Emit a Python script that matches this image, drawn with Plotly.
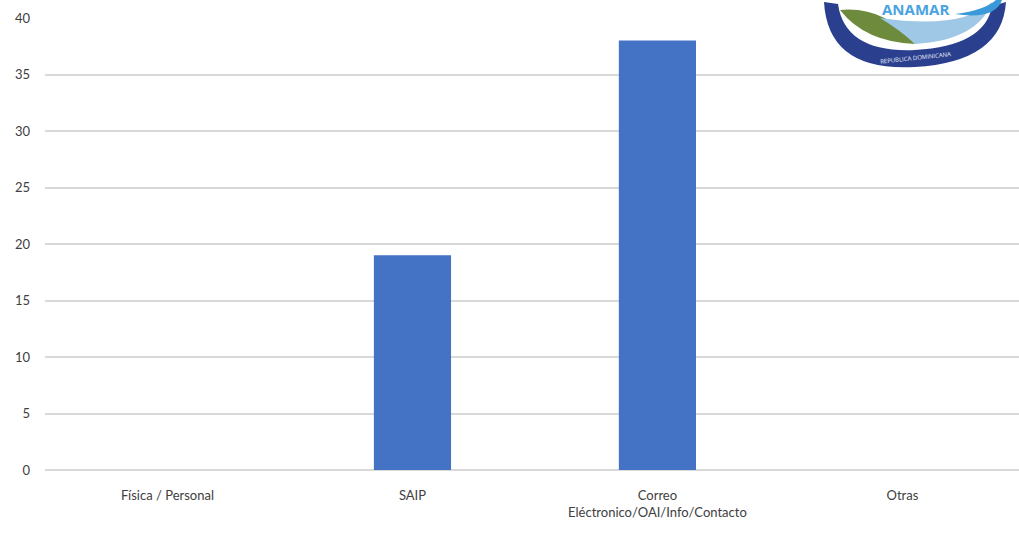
import plotly.graph_objects as go

categories = ["Física / Personal", "SAIP", "Correo<br>Eléctronico/OAI/Info/Contacto", "Otras"]
values = [0, 19, 38, 0]
y_ticks = [0, 5, 10, 15, 20, 25, 30, 35, 40]

W, H = 1019, 536
L, R, T, B = 45, 0, 18, 66

fig = go.Figure(go.Bar(
    x=list(range(len(categories))), y=values,
    marker=dict(color="#4472C4", line=dict(width=0)),
    width=0.315,
))

# pixel -> paper helpers for the emblem in the corner
def px(x):
    return (x - L) / (W - L - R)

def py(y):
    return (H - B - y) / (H - T - B)

shapes = []
# dark blue outer ring of the emblem
shapes.append(dict(type="path", xref="paper", yref="paper",
    path=f"M {px(824)},{py(2)} Q {px(828)},{py(72)} {px(915)},{py(67)} Q {px(1002)},{py(62)} {px(1006)},{py(2)} "
         f"L {px(992)},{py(6)} Q {px(985)},{py(46)} {px(915)},{py(50)} Q {px(845)},{py(53)} {px(838)},{py(4)} Z",
    fillcolor="#2B3F8F", line=dict(width=0), layer="above"))
# green leaf
shapes.append(dict(type="path", xref="paper", yref="paper",
    path=f"M {px(840)},{py(10)} Q {px(885)},{py(6)} {px(915)},{py(44)} Q {px(865)},{py(42)} {px(840)},{py(10)} Z",
    fillcolor="#6E8B3D", line=dict(width=0), layer="above"))
# light blue swoosh
shapes.append(dict(type="path", xref="paper", yref="paper",
    path=f"M {px(880)},{py(18)} Q {px(962)},{py(30)} {px(992)},{py(2)} Q {px(978)},{py(40)} {px(915)},{py(44)} Q {px(900)},{py(30)} {px(880)},{py(18)} Z",
    fillcolor="#9FC7E6", line=dict(width=0), layer="above"))
shapes.append(dict(type="path", xref="paper", yref="paper",
    path=f"M {px(955)},{py(14)} Q {px(985)},{py(10)} {px(996)},{py(0)} L {px(1002)},{py(0)} Q {px(995)},{py(20)} {px(955)},{py(14)} Z",
    fillcolor="#3A9AD9", line=dict(width=0), layer="above"))

annotations = [
    dict(xref="paper", yref="paper", x=px(915), y=py(9), text="<b>ANAMAR</b>",
         showarrow=False, font=dict(family="Open Sans", size=15, color="#4AA3DF"),
         yanchor="middle", xanchor="center"),
    dict(xref="paper", yref="paper", x=px(915), y=py(58), text="REPUBLICA DOMINICANA",
         showarrow=False, font=dict(family="Open Sans", size=6, color="#E8EEF8"),
         textangle=-6, yanchor="middle", xanchor="center"),
]

fig.update_layout(
    width=W, height=H,
    margin=dict(l=L, r=R, t=T, b=B),
    paper_bgcolor="white", plot_bgcolor="white",
    showlegend=False,
    font=dict(family="Lato, Open Sans, sans-serif", color="#595959", size=13),
    bargap=0.685,
    shapes=shapes,
    annotations=annotations,
    xaxis=dict(
        tickmode="array", tickvals=list(range(len(categories))), ticktext=categories,
        range=[-0.5, 3.476], showgrid=False, zeroline=False, showline=False,
        ticks="", ticklabelstandoff=16, tickfont=dict(size=13, color="#404040"),
    ),
    yaxis=dict(
        range=[0, 40], tickvals=y_ticks, showgrid=True, gridcolor="#D9D9D9",
        gridwidth=1.5, zeroline=True, zerolinecolor="#D9D9D9", zerolinewidth=1.5,
        showline=False, ticks="", ticklabelstandoff=14,
        tickfont=dict(size=13, color="#404040"),
    ),
)

fig.write_html("out.html")
